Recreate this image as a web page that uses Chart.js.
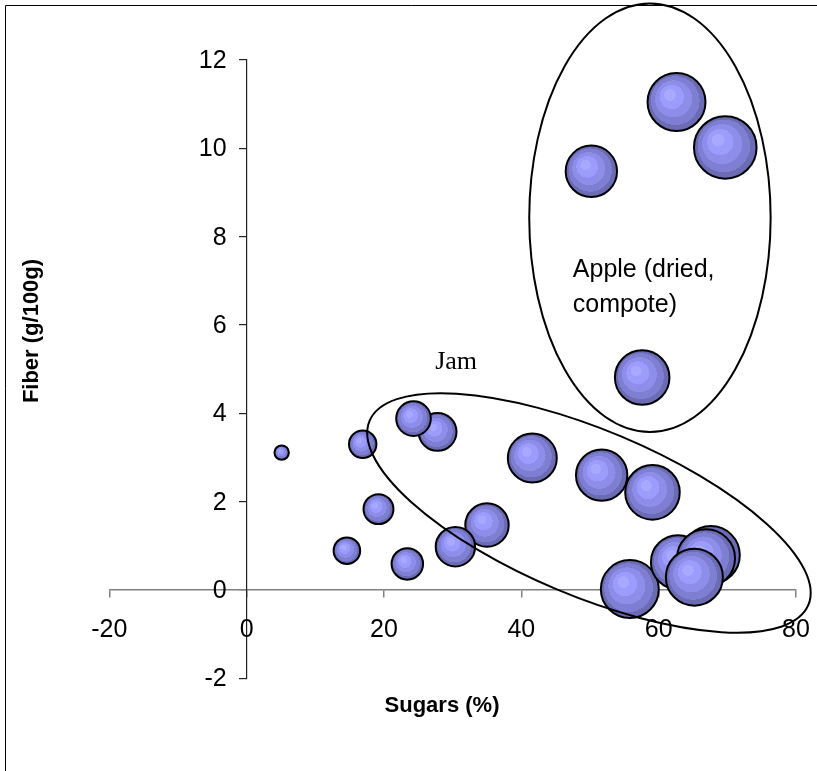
<!DOCTYPE html>
<html><head><meta charset="utf-8">
<script src="https://cdn.jsdelivr.net/npm/chart.js@4.4.0/dist/chart.umd.min.js"></script>
<style>html,body{margin:0;padding:0;background:#fff;}#wrap{width:817px;height:771px;}</style>
</head><body><div id="wrap"><canvas id="c" width="817" height="771"></canvas></div>
<script>
// ---- data ----
const sugars     = [69.7, 62.6, 55.8, 62.8, 67.6, 66.9, 65.2, 59.1, 57.6, 51.7, 50.2, 41.6, 35.0, 30.4, 27.8, 24.3, 23.4, 19.2, 16.9, 14.6, 5.1];
const fiber      = [10.02, 11.05, 0.02, 0.63, 0.79, 0.72, 0.29, 2.21, 4.81, 2.60, 9.48, 2.99, 1.47, 0.98, 3.58, 3.88, 0.59, 1.83, 3.30, 0.89, 3.11];
const bubbleSize = [245, 210, 210, 182, 210, 210, 203, 186, 186, 165, 165, 150, 118, 97, 90, 75, 62, 56, 47, 44, 13];
const xTicks = [-20, 0, 20, 40, 60, 80];
const yTicks = [-2, 0, 2, 4, 6, 8, 10, 12];
const xTitle = 'Sugars (%)';
const yTitle = 'Fiber (g/100g)';
const jamLabel = 'Jam';
const appleLabel = ['Apple (dried,', 'compote)'];

const points = sugars.map((s, i) => ({x: s, y: fiber[i], r: 2 * Math.sqrt(bubbleSize[i])}));

function bubbleFill(c) {
  const base = '#8a8ae0';
  if (c.type !== 'data' || !c.raw) return base;
  const ch = c.chart, xs = ch.scales.x, ys = ch.scales.y;
  if (!xs || !ys) return base;
  const cx = xs.getPixelForValue(c.raw.x), cy = ys.getPixelForValue(c.raw.y), r = c.raw.r;
  if (!isFinite(cx) || !isFinite(cy)) return base;
  const g = ch.ctx.createRadialGradient(cx - 0.28 * r, cy - 0.3 * r, 0, cx, cy, r);
  const bands = [[0.2, '#a8a8ff'], [0.42, '#9c9cfc'], [0.64, '#8e8eea'], [0.84, '#7e7ed2'], [1.0, '#6c6cb4']];
  let prev = 0;
  bands.forEach(([t, col]) => { g.addColorStop(prev, col); g.addColorStop(t, col); prev = t; });
  return g;
}

const tickFamily = '"Liberation Sans", Arial, sans-serif';
const tickSize = 25;

const overlay = {
  id: 'overlay',
  beforeDraw(chart) {
    const ctx = chart.ctx;
    ctx.save();
    ctx.fillStyle = '#fff';
    ctx.fillRect(0, 0, chart.width, chart.height);
    ctx.strokeStyle = '#000';
    ctx.lineWidth = 1;
    ctx.beginPath();
    ctx.moveTo(5.5, chart.height);
    ctx.lineTo(5.5, 5.5);
    ctx.lineTo(chart.width, 5.5);
    ctx.stroke();
    ctx.restore();
  },
  afterDatasetsDraw(chart) {
    const ctx = chart.ctx, xs = chart.scales.x, ys = chart.scales.y;
    ctx.save();
    // tick labels for the axes that cross at (0, 0)
    const axisX = xs.getPixelForValue(0), axisY = ys.getPixelForValue(0);
    ctx.fillStyle = '#000';
    ctx.font = tickSize + 'px ' + tickFamily;
    ctx.textBaseline = 'middle';
    ctx.textAlign = 'right';
    yTicks.forEach(v => ctx.fillText(String(v), axisX - 20, ys.getPixelForValue(v) + 1));
    ctx.textAlign = 'center';
    xTicks.forEach(v => ctx.fillText(String(v), xs.getPixelForValue(v), axisY + 40));

    ctx.strokeStyle = '#000';
    ctx.lineWidth = 2;
    // group outlines: major-axis end points in data units, half width in px
    const groups = [
      {a: [17.9, 3.83], b: [81.8, -0.34], half: 83},
      {a: [58.73, 13.28], b: [58.73, 3.575], half: 120.7}
    ];
    groups.forEach(g => {
      const x1 = xs.getPixelForValue(g.a[0]), y1 = ys.getPixelForValue(g.a[1]);
      const x2 = xs.getPixelForValue(g.b[0]), y2 = ys.getPixelForValue(g.b[1]);
      const cx = (x1 + x2) / 2, cy = (y1 + y2) / 2;
      const major = Math.hypot(x2 - x1, y2 - y1) / 2;
      const rot = Math.atan2(y2 - y1, x2 - x1);
      ctx.beginPath();
      ctx.ellipse(cx, cy, major, g.half, rot, 0, Math.PI * 2);
      ctx.stroke();
    });
    // group labels
    ctx.fillStyle = '#000';
    ctx.textBaseline = 'middle';
    ctx.font = '26px "Liberation Serif", "Times New Roman", serif';
    ctx.textAlign = 'center';
    ctx.fillText(jamLabel, xs.getPixelForValue(30.5), ys.getPixelForValue(5.16));
    ctx.font = '25px "Liberation Sans", Arial, sans-serif';
    ctx.textAlign = 'left';
    ctx.fillText(appleLabel[0], xs.getPixelForValue(47.5), ys.getPixelForValue(7.24));
    ctx.fillText(appleLabel[1], xs.getPixelForValue(47.5), ys.getPixelForValue(6.45));
    // axis titles
    ctx.font = 'bold 22px "Liberation Sans", Arial, sans-serif';
    ctx.textAlign = 'center';
    ctx.fillText(xTitle, 442, 706);
    ctx.translate(32, 331);
    ctx.rotate(-Math.PI / 2);
    ctx.fillText(yTitle, 0, 0);
    ctx.restore();
  }
};

new Chart(document.getElementById('c'), {
  type: 'bubble',
  data: {
    datasets: [{
      data: points,
      backgroundColor: bubbleFill,
      borderColor: '#000',
      borderWidth: 2,
      hoverBorderWidth: 2,
      clip: false
    }]
  },
  options: {
    responsive: false,
    animation: false,
    events: [],
    layout: {autoPadding: false, padding: {left: 109.3, right: 21, top: 60, bottom: 92.7}},
    plugins: {legend: {display: false}, tooltip: {enabled: false}},
    scales: {
      x: {
        type: 'linear', min: -20, max: 80, position: {y: 0},
        afterBuildTicks: s => { s.ticks = xTicks.map(v => ({value: v})); },
        ticks: {display: false},
        grid: {drawOnChartArea: false, drawTicks: true, tickLength: 7, color: '#808080', lineWidth: 1.5},
        border: {display: true, color: '#808080', width: 1.5}
      },
      y: {
        type: 'linear', min: -2, max: 12, position: {x: 0},
        afterBuildTicks: s => { s.ticks = yTicks.map(v => ({value: v})); },
        ticks: {display: false},
        grid: {drawOnChartArea: false, drawTicks: true, tickLength: 7, color: '#222', lineWidth: 1.2},
        border: {display: true, color: '#222', width: 1.2}
      }
    }
  },
  plugins: [overlay]
});
</script></body></html>
